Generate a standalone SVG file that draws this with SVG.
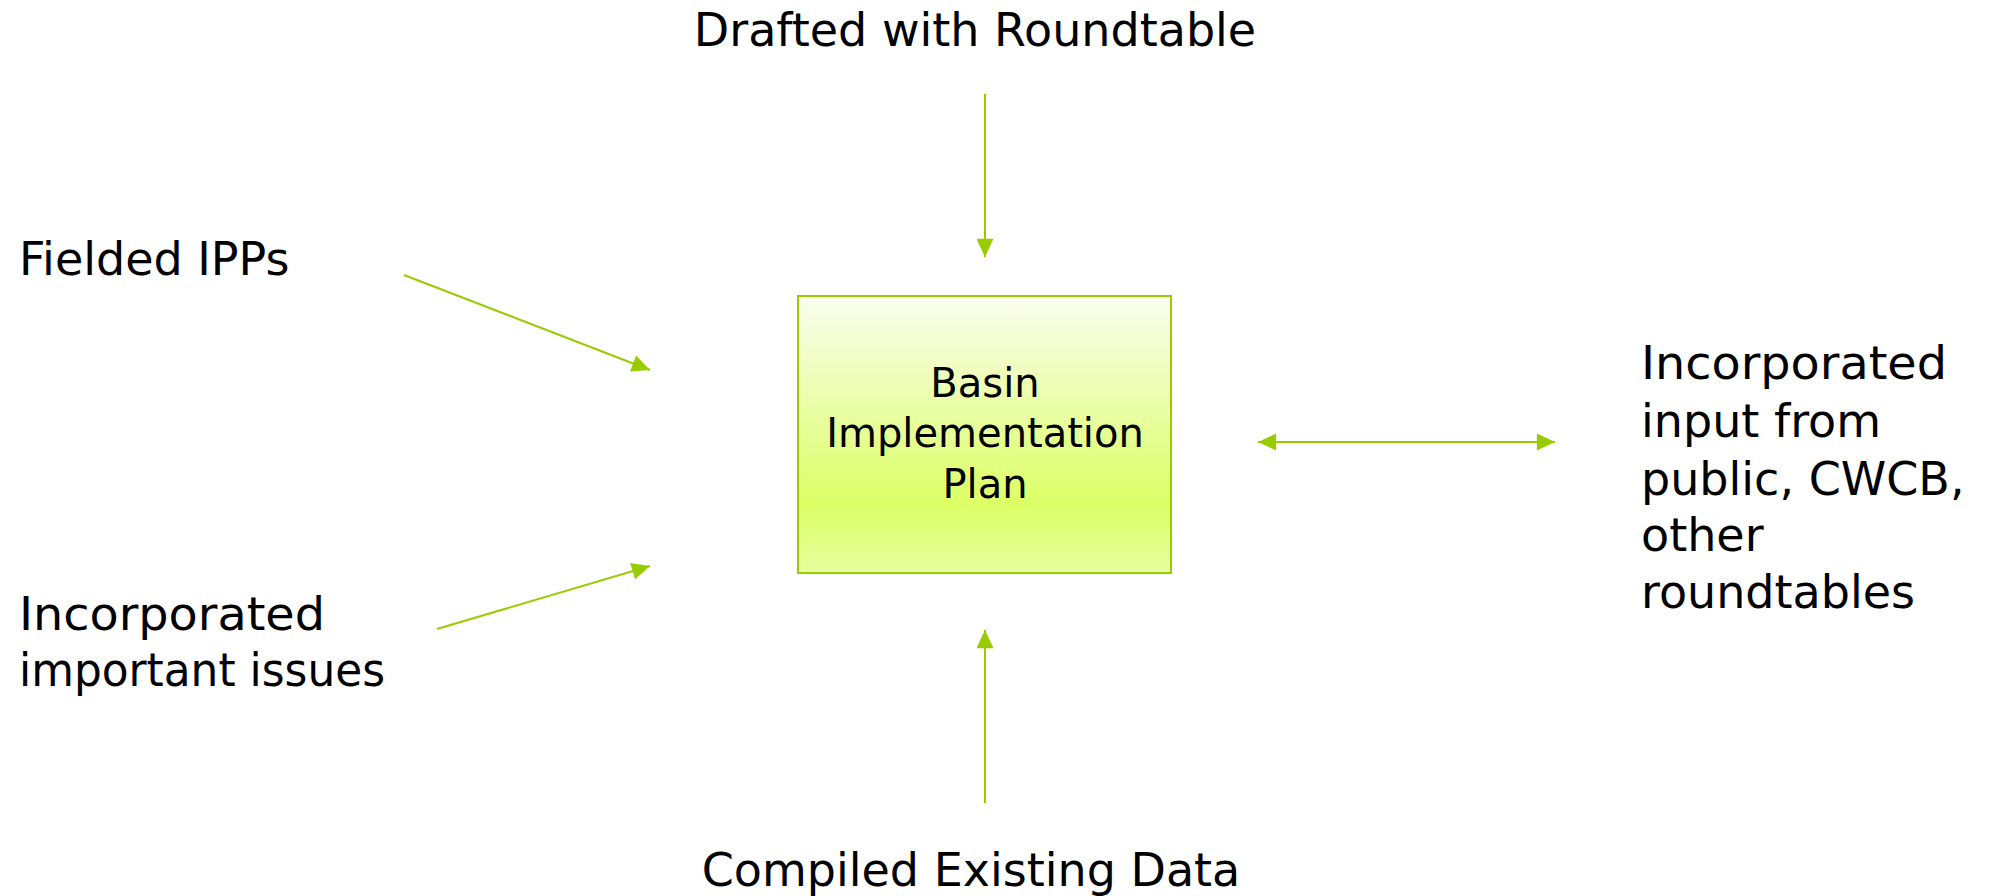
<svg xmlns="http://www.w3.org/2000/svg" width="1993" height="896" viewBox="0 0 1993 896">
<style>
.t{font-family:"DejaVu Sans","Liberation Sans",sans-serif;font-size:46px;fill:#000}
.b{font-family:"DejaVu Sans","Liberation Sans",sans-serif;font-size:40px;fill:#000;text-anchor:middle}
.c{stroke:#99cc00;stroke-width:2;fill:none;marker-end:url(#ah)}
</style>
<defs>
<linearGradient id="g" x1="0" y1="0" x2="0" y2="1">
<stop offset="0" stop-color="#fbfdf0"/>
<stop offset="0.75" stop-color="#dcff66"/>
<stop offset="1" stop-color="#e8ffa0"/>
</linearGradient>
<marker id="ah" markerUnits="userSpaceOnUse" markerWidth="19" markerHeight="17" refX="16" refY="7.5" orient="auto-start-reverse" viewBox="0 0 16 15">
<path d="M0,0 L16,7.5 L0,15 z" fill="#99cc00"/>
</marker>
</defs>
<g id="center">
<rect x="798" y="296" width="373" height="277" fill="url(#g)" stroke="#99cc00" stroke-width="2"/>
<text class="b" x="985" y="397">Basin</text>
<text class="b" x="985" y="447">Implementation</text>
<text class="b" x="985" y="498">Plan</text>
</g>
<g id="top"><text class="t" x="975" y="46" text-anchor="middle">Drafted with Roundtable</text></g>
<g id="fielded"><text class="t" x="19" y="275">Fielded IPPs</text></g>
<g id="issues"><text class="t" x="19" y="630" textLength="306" lengthAdjust="spacingAndGlyphs">Incorporated</text><text class="t" x="19" y="686" textLength="366" lengthAdjust="spacingAndGlyphs">important issues</text></g>
<g id="input">
<text class="t" x="1641" y="379" textLength="306" lengthAdjust="spacingAndGlyphs">Incorporated</text>
<text class="t" x="1641" y="437">input from</text>
<text class="t" x="1641" y="495">public, CWCB,</text>
<text class="t" x="1641" y="551">other</text>
<text class="t" x="1641" y="608">roundtables</text>
</g>
<g id="bottom"><text class="t" x="971" y="886" text-anchor="middle">Compiled Existing Data</text></g>
<g id="connectors">
<line class="c" x1="985" y1="94" x2="985" y2="257"/>
<line class="c" x1="404" y1="275" x2="650" y2="370"/>
<line class="c" x1="437" y1="629" x2="650" y2="566"/>
<line class="c" x1="985" y1="803" x2="985" y2="630"/>
<line class="c" x1="1258" y1="442" x2="1555" y2="442" style="marker-start:url(#ah)"/>
</g>
</svg>
